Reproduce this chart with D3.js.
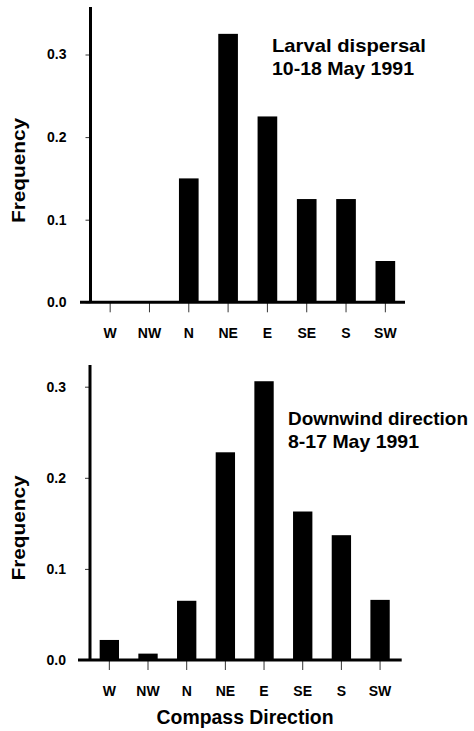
<!DOCTYPE html>
<html lang="en">
<head>
<meta charset="UTF-8">
<title>Compass direction frequencies</title>
<script src="https://cdnjs.cloudflare.com/ajax/libs/d3/7.8.5/d3.min.js"></script>
<style>
  body { margin: 0; background: #fff; }
  svg text { font-family: "Liberation Sans", Arial, Helvetica, sans-serif; font-weight: bold; fill: #000; }
</style>
</head>
<body>
<script>
  // data
  const directions = ['W', 'NW', 'N', 'NE', 'E', 'SE', 'S', 'SW'];
  const larvalFreq = [0, 0, 0.15, 0.325, 0.225, 0.125, 0.125, 0.05];
  const windFreq = [0.022, 0.007, 0.065, 0.228, 0.306, 0.163, 0.137, 0.066];
  const yTicks = [0, 0.1, 0.2, 0.3];
  const larvalTitle = ['Larval dispersal', '10-18 May 1991'];
  const windTitle = ['Downwind direction', '8-17 May 1991'];

  const svg = d3.select('body').append('svg')
    .attr('width', 474)
    .attr('height', 731);

  // one panel; layout numbers per panel because the two plots differ a bit in the print
  function panel(values, title, p) {
    const g = svg.append('g');

    const x = d3.scaleBand()
      .domain(directions)
      .range([p.x0, p.x1])
      .paddingInner(0.5)
      .paddingOuter(0.25);

    const y = d3.scaleLinear()
      .domain([0, 0.1])
      .range([p.base, p.base - p.unit]);

    // bars
    g.selectAll('.bar')
      .data(directions)
      .enter().append('rect')
      .attr('class', 'bar')
      .attr('x', d => x(d))
      .attr('width', x.bandwidth())
      .attr('y', (d, i) => y(values[i]))
      .attr('height', (d, i) => y(0) - y(values[i]))
      .attr('fill', '#000');

    // y axis
    const yAxis = g.append('g')
      .attr('transform', 'translate(' + p.x0 + ',0)')
      .call(d3.axisLeft(y).tickValues(yTicks).tickFormat(d3.format('.1f')).tickSize(5).tickPadding(19));
    yAxis.select('.domain').remove();
    yAxis.selectAll('.tick line').attr('stroke-width', 0.8);
    yAxis.selectAll('.tick text').style('font-size', '14px');

    g.append('line')
      .attr('x1', p.x0).attr('x2', p.x0)
      .attr('y1', p.top).attr('y2', p.base)
      .attr('stroke', '#000').attr('stroke-width', 3);

    // x axis
    const xAxis = g.append('g')
      .attr('transform', 'translate(0,' + p.base + ')')
      .call(d3.axisBottom(x).tickSize(10).tickPadding(16));
    xAxis.select('.domain').remove();
    xAxis.selectAll('.tick line').attr('stroke-width', 0.8);
    xAxis.selectAll('.tick text').style('font-size', '14px');

    g.append('line')
      .attr('x1', p.bx0).attr('x2', p.bx1)
      .attr('y1', p.base).attr('y2', p.base)
      .attr('stroke', '#000').attr('stroke-width', 3);

    // y label
    g.append('text')
      .attr('transform', 'translate(25,' + p.labelY + ') rotate(-90)')
      .attr('text-anchor', 'middle')
      .attr('textLength', 105)
      .attr('lengthAdjust', 'spacingAndGlyphs')
      .style('font-size', '19px')
      .text('Frequency');

    // panel note
    g.selectAll('.note')
      .data(title)
      .enter().append('text')
      .attr('class', 'note')
      .attr('x', p.noteX)
      .attr('y', (d, i) => p.noteY + i * 23)
      .attr('textLength', (d, i) => p.noteW[i])
      .attr('lengthAdjust', 'spacingAndGlyphs')
      .style('font-size', '19px')
      .text(d => d);
  }

  panel(larvalFreq, larvalTitle, {
    x0: 90.5, x1: 405, bx0: 80, bx1: 405,
    base: 302.3, unit: 82.6, top: 7,
    labelY: 170.5, noteX: 272, noteY: 52.3, noteW: [154, 142]
  });

  panel(windFreq, windTitle, {
    x0: 90, x1: 399.4, bx0: 78, bx1: 401.7,
    base: 660, unit: 91.1, top: 365,
    labelY: 528, noteX: 288, noteY: 425, noteW: [180, 131]
  });

  // x title
  svg.append('text')
    .attr('x', 245)
    .attr('y', 724.3)
    .attr('text-anchor', 'middle')
    .attr('textLength', 177)
    .attr('lengthAdjust', 'spacingAndGlyphs')
    .style('font-size', '20px')
    .text('Compass Direction');
</script>
</body>
</html>
